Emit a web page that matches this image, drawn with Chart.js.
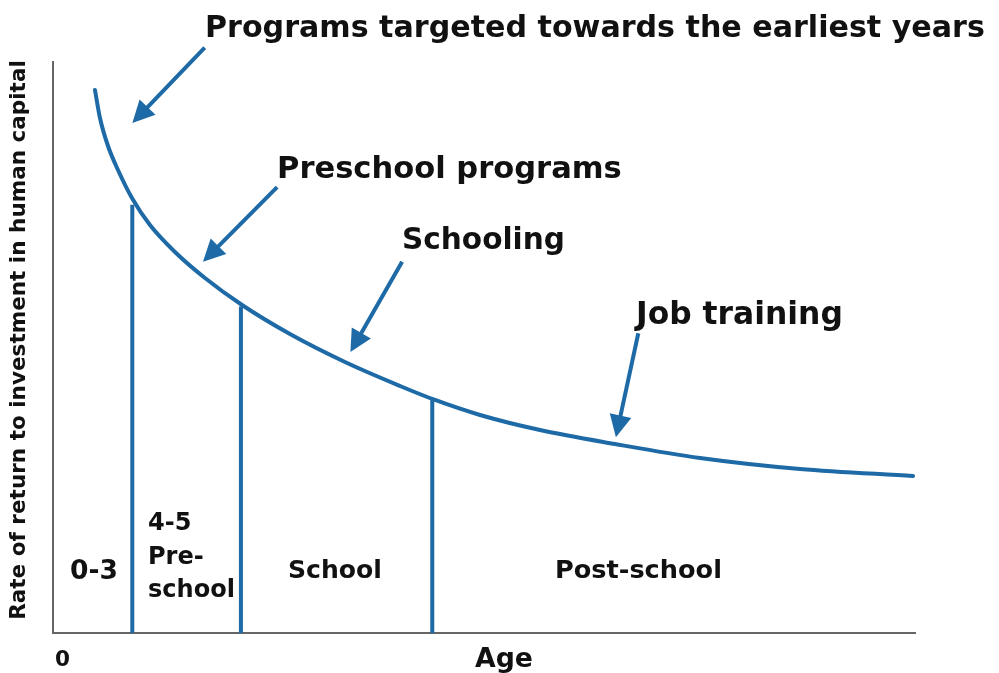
<!DOCTYPE html>
<html>
<head>
<meta charset="utf-8">
<script src="https://cdn.jsdelivr.net/npm/chart.js@4.4.1/dist/chart.umd.min.js"></script>
<style>
html, body { margin: 0; padding: 0; background: #fff; }
#wrap { width: 999px; height: 673px; position: relative; }
</style>
</head>
<body>
<div id="wrap"><canvas id="heckman"></canvas></div>
<script>
// age runs 0..100 and return 0..100 (the source has no units)
const curveAge    = [4.87, 5.45, 6.38, 7.54, 9.16, 11.25, 14.15, 17.63, 21.93, 27.49, 33.87, 40.26, 44.32, 49.54, 56.50, 65.20, 75.06, 86.66, 99.77];
const curveReturn = [95.10, 90.19, 85.29, 81.09, 76.18, 71.45, 66.73, 62.17, 57.44, 52.36, 47.46, 43.26, 40.81, 38.18, 35.55, 33.10, 30.65, 28.72, 27.50];

// stage boundaries, and where each meets the curve
const stageEdges = [9.2, 21.8, 44.0];
const stageTops  = [75.0, 57.2, 41.0];
const stageNames = ['0-3', '4-5', 'Pre-', 'school', 'School', 'Post-school'];

const programNames = ['Programs targeted towards the earliest years', 'Preschool programs', 'Schooling', 'Job training'];
const arrowFrom = [[17.6, 102.5], [26.0, 78.1], [40.5, 65.0], [67.9, 52.5]];
const arrowTo   = [[9.2, 89.3], [17.4, 65.0], [34.5, 49.2], [65.3, 34.3]];

const xTitle = 'Age';
const yTitle = 'Rate of return to investment in human capital';
const originLabel = '0';

const BLUE = '#1d6aa6';
const FONT = '"DejaVu Sans", sans-serif';

// text boxes: [text, left, right, centreY]
const textBoxes = [
    [programNames[0], 205, 985, 29],
    [programNames[1], 277, 622, 170],
    [programNames[2], 402, 565, 241],
    [programNames[3], 636, 843, 316],
    [stageNames[0], 70, 118, 572],
    [stageNames[4], 288, 382, 571],
    [stageNames[5], 555, 722, 571],
    [originLabel, 55, 70, 660],
    [xTitle, 475, 533, 660]
];

function fitFont(ctx, text, width) {
    ctx.font = 'bold 100px ' + FONT;
    const size = 100 * width / ctx.measureText(text).width;
    ctx.font = 'bold ' + size + 'px ' + FONT;
    return size;
}

const datasets = [{
    data: curveAge.map((a, i) => ({ x: a, y: curveReturn[i] })),
    borderColor: BLUE,
    borderWidth: 4,
    pointRadius: 0,
    cubicInterpolationMode: 'monotone',
    borderCapStyle: 'round'
}];
stageEdges.forEach((edge, i) => {
    datasets.push({
        data: [{ x: edge, y: 0 }, { x: edge, y: stageTops[i] }],
        borderColor: BLUE,
        borderWidth: 4,
        pointRadius: 0
    });
});

const annotations = {
    id: 'annotations',
    afterDatasetsDraw(chart) {
        const ctx = chart.ctx;
        const xs = chart.scales.x, ys = chart.scales.y;
        ctx.save();

        // arrows
        ctx.strokeStyle = BLUE;
        ctx.fillStyle = BLUE;
        ctx.lineWidth = 4;
        arrowFrom.forEach((from, i) => {
            const x0 = xs.getPixelForValue(from[0]), y0 = ys.getPixelForValue(from[1]);
            const x1 = xs.getPixelForValue(arrowTo[i][0]), y1 = ys.getPixelForValue(arrowTo[i][1]);
            const ang = Math.atan2(y1 - y0, x1 - x0);
            const headLen = 22, headHalf = 11;
            const bx = x1 - headLen * Math.cos(ang), by = y1 - headLen * Math.sin(ang);
            ctx.beginPath();
            ctx.moveTo(x0, y0);
            ctx.lineTo(bx + 2 * Math.cos(ang), by + 2 * Math.sin(ang));
            ctx.stroke();
            ctx.beginPath();
            ctx.moveTo(x1, y1);
            ctx.lineTo(bx - headHalf * Math.sin(ang), by + headHalf * Math.cos(ang));
            ctx.lineTo(bx + headHalf * Math.sin(ang), by - headHalf * Math.cos(ang));
            ctx.closePath();
            ctx.fill();
        });

        // labels
        ctx.fillStyle = '#111';
        ctx.textBaseline = 'middle';
        ctx.textAlign = 'left';
        textBoxes.forEach(([text, left, right, cy]) => {
            fitFont(ctx, text, right - left);
            ctx.fillText(text, left, cy);
        });

        // stacked preschool label
        fitFont(ctx, stageNames[3], 235 - 148);
        ctx.fillText(stageNames[1], 148, 524);
        ctx.fillText(stageNames[2], 148, 558);
        ctx.fillText(stageNames[3], 148, 591);

        // y axis title
        ctx.translate(19, 340);
        ctx.rotate(-Math.PI / 2);
        ctx.textAlign = 'center';
        fitFont(ctx, yTitle, 560);
        ctx.fillText(yTitle, 0, 0);
        ctx.restore();
    }
};

new Chart(document.getElementById('heckman'), {
    type: 'line',
    data: { datasets: datasets },
    options: {
        responsive: true,
        maintainAspectRatio: false,
        animation: false,
        layout: { padding: { left: 53, right: 84, top: 62, bottom: 40 } },
        plugins: { legend: { display: false }, tooltip: { enabled: false } },
        scales: {
            x: {
                type: 'linear', min: 0, max: 100,
                ticks: { display: false },
                grid: { display: false, drawTicks: false },
                border: { color: '#666', width: 2 }
            },
            y: {
                type: 'linear', min: 0, max: 100,
                ticks: { display: false },
                grid: { display: false, drawTicks: false },
                border: { color: '#666', width: 2 }
            }
        }
    },
    plugins: [annotations]
});
</script>
</body>
</html>
